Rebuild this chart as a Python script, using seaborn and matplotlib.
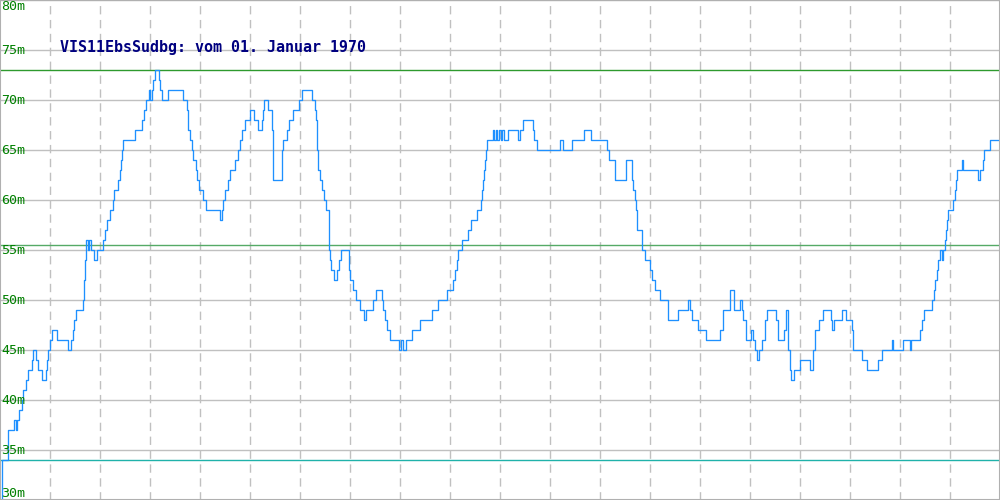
import numpy as np
import pandas as pd
import seaborn as sns
import matplotlib.pyplot as plt

# Pegel-Verlauf (Stützstellen, Wert gilt bis zur nächsten Stelle)
t = [0, 2, 8, 14, 16, 17, 19, 22, 23, 26, 28, 32, 33, 36, 38, 40, 42, 46, 47, 48,
     50, 52, 57, 59, 68, 71, 73, 74, 76, 83, 84, 85, 86, 88, 89, 91, 94, 97, 103, 105,
     107, 110, 113, 114, 118, 120, 121, 122, 123, 135, 142, 144, 146, 149, 150, 152, 153, 155, 159, 160,
     162, 168, 183, 187, 188, 190, 192, 193, 196, 197, 199, 203, 206, 220, 222, 223, 225, 228, 230, 235,
     238, 240, 242, 245, 250, 254, 258, 262, 263, 264, 268, 272, 273, 282, 283, 287, 289, 293, 299, 302,
     312, 315, 316, 317, 318, 320, 322, 324, 326, 329, 330, 331, 334, 337, 339, 341, 349, 350, 353, 356,
     360, 364, 366, 373, 376, 382, 383, 385, 387, 390, 399, 401, 403, 406, 412, 420, 432, 438, 447, 453,
     455, 457, 458, 462, 468, 471, 477, 481, 482, 483, 484, 485, 486, 487, 493, 494, 496, 497, 499, 501,
     502, 504, 508, 518, 520, 523, 533, 534, 537, 560, 563, 572, 584, 591, 607, 609, 615, 626, 632, 633,
     635, 636, 637, 642, 645, 650, 652, 655, 660, 668, 678, 688, 690, 692, 698, 706, 720, 723, 730, 734,
     740, 742, 743, 746, 751, 753, 755, 757, 759, 762, 765, 767, 776, 778, 784, 786, 788, 790, 791, 794,
     800, 810, 813, 815, 819, 823, 831, 832, 834, 842, 846, 852, 853, 862, 867, 878, 882, 892, 893, 903,
     910, 911, 920, 922, 924, 932, 934, 935, 937, 938, 940, 942, 943, 945, 946, 947, 948, 953, 955, 956,
     957, 962, 963, 978, 980, 983, 984, 990, 1000]
pegel = [30, 34, 37, 38, 37, 38, 39, 40, 41, 42, 43, 44, 45, 44, 43, 43, 42, 43, 44, 45,
         46, 47, 46, 46, 45, 46, 47, 48, 49, 50, 52, 54, 56, 55, 56, 55, 54, 55, 56, 57,
         58, 59, 60, 61, 62, 63, 64, 65, 66, 67, 68, 69, 70, 71, 70, 71, 72, 73, 72, 71,
         70, 71, 70, 69, 67, 66, 65, 64, 63, 62, 61, 60, 59, 58, 59, 60, 61, 62, 63, 64,
         65, 66, 67, 68, 69, 68, 67, 68, 69, 70, 69, 67, 62, 65, 66, 67, 68, 69, 70, 71,
         70, 69, 68, 65, 63, 62, 61, 60, 59, 55, 54, 53, 52, 53, 54, 55, 53, 52, 51, 50,
         49, 48, 49, 50, 51, 50, 49, 48, 47, 46, 45, 46, 45, 46, 47, 48, 49, 50, 51, 52,
         53, 54, 55, 56, 57, 58, 59, 60, 61, 62, 63, 64, 65, 66, 67, 66, 67, 66, 67, 66,
         67, 66, 67, 66, 67, 68, 67, 66, 65, 66, 65, 66, 67, 66, 65, 64, 62, 64, 62, 61,
         60, 59, 57, 55, 54, 53, 52, 51, 50, 48, 49, 50, 49, 48, 47, 46, 47, 49, 51, 49,
         50, 49, 48, 46, 47, 46, 45, 44, 45, 46, 48, 49, 48, 46, 47, 49, 45, 43, 42, 43,
         44, 43, 45, 47, 48, 49, 48, 47, 48, 49, 48, 47, 45, 44, 43, 44, 45, 46, 45, 46,
         45, 46, 47, 48, 49, 50, 51, 52, 53, 54, 55, 54, 55, 56, 57, 58, 59, 60, 61, 62,
         63, 64, 63, 62, 63, 64, 65, 66, 66]

pegel_max = 73
pegel_mittel = 55.5
pegel_min = 34
y_ticks = [30, 35, 40, 45, 50, 55, 60, 65, 70, 75, 80]
tick_labels = [f"{v}m" for v in y_ticks]
titel = "VIS11EbsSudbg: vom 01. Januar 1970"

df = pd.DataFrame({"t": t, "pegel": pegel})

sns.set_style("white")
plt.rcParams["font.family"] = ["DejaVu Sans Mono", "DejaVu Sans"]

fig = plt.figure(figsize=(10, 5), dpi=100)
ax = fig.add_axes([0, 0, 1, 1])

# Raster
for v in y_ticks:
    ax.axhline(v, color="#c0c0c0", lw=1.0, zorder=0)
for x in range(50, 1000, 50):
    ax.axvline(x, color="#c0c0c0", lw=1.0, ls=(0, (6, 4)), zorder=0)

# Max / Mittel / Min
ax.axhline(pegel_max, color="#2e9a2e", lw=1.0, zorder=1)
ax.axhline(pegel_mittel, color="#55aa66", lw=1.0, zorder=1)
ax.axhline(pegel_min, color="#20b2aa", lw=1.0, zorder=1)

sns.lineplot(data=df, x="t", y="pegel", ax=ax, color="#1e90ff", lw=0.95,
             drawstyle="steps-post", estimator=None, zorder=2)

ax.set_xlim(0, 1000)
ax.set_ylim(30, 80)
ax.set_xticks([])
ax.set_yticks([])
ax.set_xlabel("")
ax.set_ylabel("")
for s in ax.spines.values():
    s.set_color("#b0b0b0")
    s.set_linewidth(1.5)

# Achsbeschriftung innen links
for v, lab in zip(y_ticks, tick_labels):
    va = "center"
    if v == y_ticks[-1]:
        va = "top"
    elif v == y_ticks[0]:
        va = "bottom"
    ax.text(0.001, v, lab, transform=ax.get_yaxis_transform(), color="#008000",
            fontsize=9.6, va=va, ha="left")

ax.text(0.06, 0.905, titel, transform=ax.transAxes, color="#000080",
        fontsize=10.8, fontweight="bold", va="center", ha="left")

fig.savefig("out.png", dpi=100)
